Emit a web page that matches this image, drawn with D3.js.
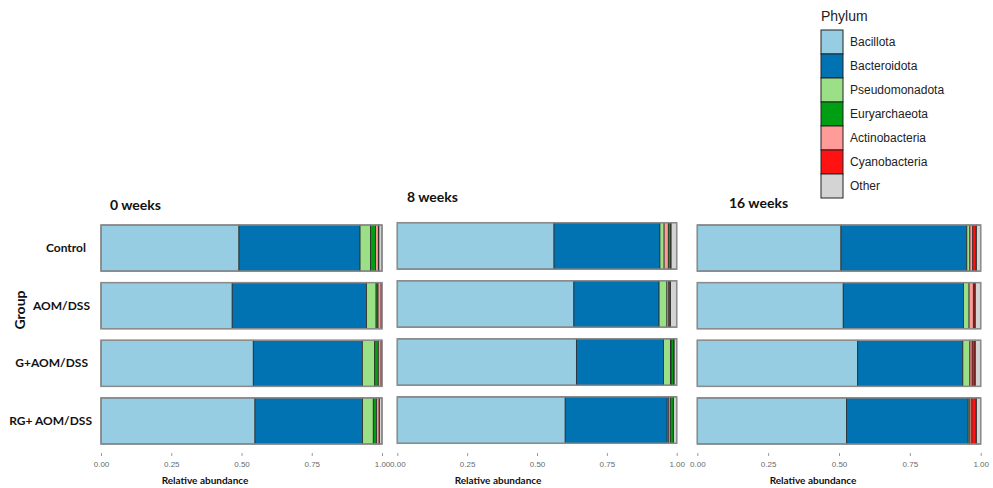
<!DOCTYPE html>
<html><head><meta charset="utf-8">
<script src="https://cdn.jsdelivr.net/npm/d3@7"></script>
<style>
html,body{margin:0;padding:0;background:#fff;}
svg{display:block;}
</style></head>
<body>
<script>
// ---------- DATA ----------
const groups = ["Control", "AOM/DSS", "G+AOM/DSS", "RG+ AOM/DSS"];
const panelTitles = ["0 weeks", "8 weeks", "16 weeks"];
const phyla = ["Bacillota", "Bacteroidota", "Pseudomonadota", "Euryarchaeota", "Actinobacteria", "Cyanobacteria", "Other"];
const phylumColors = ["#96cde2", "#0173b2", "#9bdf87", "#009e12", "#ff9c99", "#ff1212", "#d4d4d4"];
const tickValues = [0, 0.25, 0.5, 0.75, 1.0];

// rows follow `phyla`, columns follow `groups`
const values0w = [
  [0.491, 0.467, 0.542, 0.548],
  [0.431, 0.478, 0.388, 0.383],
  [0.037, 0.034, 0.044, 0.038],
  [0.018, 0.007, 0.013, 0.012],
  [0.010, 0.011, 0.010, 0.009],
  [0.002, 0.001, 0.001, 0.001],
  [0.011, 0.002, 0.002, 0.009]
];
const values8w = [
  [0.561, 0.632, 0.641, 0.601],
  [0.379, 0.305, 0.312, 0.365],
  [0.015, 0.028, 0.025, 0.004],
  [0.009, 0.005, 0.009, 0.011],
  [0.015, 0.007, 0.002, 0.007],
  [0.001, 0.001, 0.002, 0.001],
  [0.020, 0.022, 0.009, 0.011]
];
const values16w = [
  [0.507, 0.515, 0.566, 0.527],
  [0.444, 0.424, 0.371, 0.429],
  [0.011, 0.020, 0.025, 0.006],
  [0.001, 0.001, 0.001, 0.001],
  [0.010, 0.015, 0.008, 0.007],
  [0.012, 0.006, 0.010, 0.015],
  [0.015, 0.019, 0.019, 0.015]
];
// stacking order of phyla (indices into `phyla`) in each panel
const order0w = [0, 1, 2, 3, 4, 5, 6];
const order8w = [0, 1, 2, 4, 3, 5, 6];
const order16w = [0, 1, 2, 4, 5, 3, 6];

const panelValues = [values0w, values8w, values16w];
const panelOrders = [order0w, order8w, order16w];

// ---------- LAYOUT ----------
const W = 993, H = 488;
const panelLayout = [
  {x0: 101, x1: 382, y0: 225, y1: 444, titleX: 110, titleY: 210, labX: 205},
  {x0: 397.3, x1: 676.7, y0: 222.7, y1: 443.3, titleX: 407, titleY: 202, labX: 498},
  {x0: 697.3, x1: 980.7, y0: 225, y1: 444, titleX: 729, titleY: 208, labX: 813}
];

const svg = d3.select("body").append("svg").attr("width", W).attr("height", H);
const color = d3.scaleOrdinal().domain(phyla).range(phylumColors);

panelLayout.forEach((L, pi) => {
  const x = d3.scaleLinear().domain([0, 1]).range([L.x0, L.x1]);
  const y = d3.scaleBand().domain(groups).range([L.y0, L.y1]).paddingInner(0.2).paddingOuter(0);
  const vals = panelValues[pi];
  const order = panelOrders[pi];
  const rows = groups.map((g, gi) => {
    const r = {group: g};
    phyla.forEach((p, k) => r[p] = vals[k][gi]);
    return r;
  });
  const stack = d3.stack().keys(order.map(k => phyla[k]));
  const series = stack(rows);
  const g = svg.append("g");

  g.selectAll("g.layer").data(series).join("g")
    .attr("fill", d => color(d.key))
    .selectAll("rect").data(d => d).join("rect")
    .attr("x", d => x(d[0]))
    .attr("y", d => y(d.data.group))
    .attr("width", d => Math.max(0, x(d[1]) - x(d[0])))
    .attr("height", y.bandwidth())
    .attr("stroke", "#2c2c2c").attr("stroke-width", 0.8);

  // outer bar frame
  g.selectAll("rect.frame").data(groups).join("rect").attr("class", "frame")
    .attr("x", x(0)).attr("y", d => y(d))
    .attr("width", x(1) - x(0)).attr("height", y.bandwidth())
    .attr("fill", "none").attr("stroke", "#8c8c8c").attr("stroke-width", 1.5);

  // x axis
  const axis = d3.axisBottom(x).tickValues(tickValues).tickFormat(d3.format(".2f")).tickSize(3).tickPadding(5);
  const ax = g.append("g").attr("transform", `translate(0,${453})`).call(axis);
  ax.select(".domain").remove();
  ax.selectAll(".tick line").attr("stroke", "#9a9a9a");
  ax.selectAll(".tick text").attr("fill", "#6a6a6a").attr("font-family", "Liberation Sans, Arial, sans-serif").attr("font-size", 8);

  g.append("text").attr("x", L.labX).attr("y", 484).attr("text-anchor", "middle")
    .attr("font-family", "Lato, sans-serif").attr("font-weight", 700).attr("font-size", 10)
    .attr("fill", "#111").text("Relative abundance");

  g.append("text").attr("x", L.titleX).attr("y", L.titleY)
    .attr("font-family", "Lato, sans-serif").attr("font-weight", 700).attr("font-size", 14)
    .attr("fill", "#111").text(panelTitles[pi]);

  if (pi === 0) {
    const labelRight = [86, 90, 88, 92];
    g.selectAll("text.ylab").data(groups).join("text").attr("class", "ylab")
      .attr("x", (d, i) => labelRight[i]).attr("y", d => y(d) + y.bandwidth() / 2 + 4)
      .attr("text-anchor", "end")
      .attr("font-family", "Lato, sans-serif").attr("font-weight", 700).attr("font-size", 12)
      .attr("fill", "#111").text(d => d);
  }
});

// y axis title
svg.append("text").attr("transform", "translate(25,310) rotate(-90)").attr("text-anchor", "middle")
  .attr("font-family", "Lato, sans-serif").attr("font-weight", 700).attr("font-size", 14)
  .attr("fill", "#111").text("Group");

// legend
const leg = svg.append("g");
leg.append("text").attr("x", 821).attr("y", 21)
  .attr("font-family", "Liberation Sans, Arial, sans-serif").attr("font-size", 14).attr("fill", "#222").text("Phylum");
const ly = d3.scaleBand().domain(phyla).range([30, 198]);
leg.selectAll("rect").data(phyla).join("rect")
  .attr("x", 821).attr("y", d => ly(d)).attr("width", 22).attr("height", ly.bandwidth())
  .attr("fill", d => color(d)).attr("stroke", "#222").attr("stroke-width", 1);
leg.selectAll("text.lab").data(phyla).join("text").attr("class", "lab")
  .attr("x", 850).attr("y", d => ly(d) + ly.bandwidth() / 2 + 4)
  .attr("font-family", "Liberation Sans, Arial, sans-serif").attr("font-size", 12).attr("fill", "#222").text(d => d);
</script>
</body></html>
